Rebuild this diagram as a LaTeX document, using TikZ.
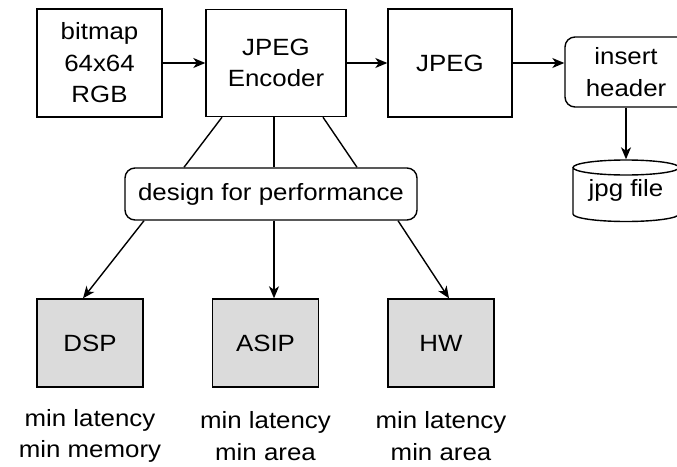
\documentclass[tikz,border=0pt]{standalone}
\usepackage{fontspec}
\setmainfont{Liberation Sans}[FakeStretch=1.1]
\usetikzlibrary{arrows.meta,calc}
\begin{document}
\begin{tikzpicture}[x=1pt,y=-1pt,
  every node/.style={font=\fontsize{23.5}{31.5}\selectfont, align=center, inner sep=0pt},
  box/.style={draw, line width=1.4pt, rectangle},
  rbox/.style={box, rounded corners=10pt},
  target/.style={box, fill=black!14},
  conn/.style={line width=1.4pt},
  arr/.style={conn, -{Stealth[length=12pt,width=10pt,inset=3.5pt]}}]
\useasboundingbox (0,0) rectangle (677,466);
\begin{scope}
\clip (0,0) rectangle (677,466);

% top row
\node[box, minimum width=125pt, minimum height=108pt] (bitmap) at (99.5,63) {bitmap\\64x64\\RGB};
\node[box, minimum width=140pt, minimum height=107pt] (enc) at (276,63) {JPEG\\Encoder};
\node[box, minimum width=124pt, minimum height=108pt] (jpeg) at (450,63) {JPEG};
\node[rbox, minimum width=122pt, minimum height=70pt] (hdr) at (626,72) {insert\\header};

% storage cylinder
\draw[conn] (573,167.5) -- (573,214) arc[start angle=180, end angle=0, x radius=53, y radius=7.5]
  -- (679,167.5) arc[start angle=0, end angle=360, x radius=53, y radius=7.5];
\node[minimum width=106pt, minimum height=62pt] (file) at (626,190.5) {jpg file};

% design node
\node[rbox, minimum width=292pt, minimum height=52pt] (design) at (271,194) {design for performance};

% targets
\node[target, minimum width=106pt, minimum height=88pt] (dsp) at (90,343) {DSP};
\node[target, minimum width=106pt, minimum height=88pt] (asip) at (265.5,343) {ASIP};
\node[target, minimum width=106pt, minimum height=88pt] (hw) at (441,343) {HW};

\node (dspl) at (90,436) {min latency\\min memory};
\node (asipl) at (265.5,436) {min latency\\min area};
\node (hwl) at (441,436) {min latency\\min area};

% data flow
\draw[arr] (bitmap.east) -- (bitmap.east -| enc.west);
\draw[arr] (enc.east) -- (enc.east -| jpeg.west);
\draw[arr] (jpeg.east) -- (jpeg.east -| hdr.west);
\draw[arr] (hdr.south) -- (file.north);

% encoder to design
\draw[conn] ($(enc.south)+(-54,0)$) -- ($(design.north)+(-87,0)$);
\draw[conn] ($(enc.south)+(-2,0)$) -- ($(design.north)+(3,0)$);
\draw[conn] ($(enc.south)+(47,0)$) -- ($(design.north)+(86,0)$);

% design to targets
\draw[arr] ($(design.south)+(-127,0)$) -- ($(dsp.north)+(-7,0)$);
\draw[arr] ($(design.south)+(3,0)$) -- ($(asip.north)+(8.5,0)$);
\draw[arr] ($(design.south)+(127,0)$) -- ($(hw.north)+(8,0)$);
\end{scope}
\end{tikzpicture}
\end{document}
